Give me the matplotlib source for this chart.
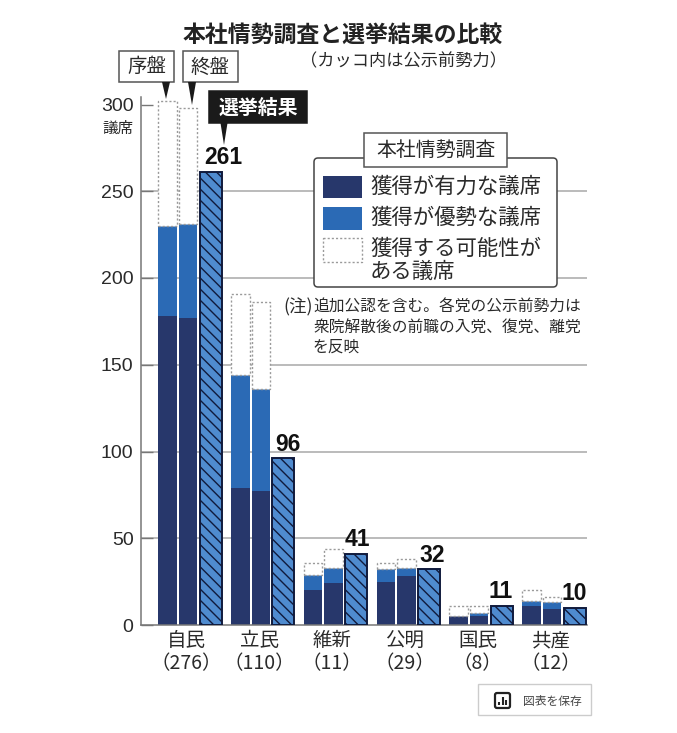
import matplotlib
matplotlib.use('Agg')
import matplotlib.pyplot as plt
import numpy as np
from matplotlib.patches import Rectangle, FancyBboxPatch, Polygon

plt.rcParams['font.family'] = ['Noto Sans CJK JP', 'DejaVu Sans']
plt.rcParams['hatch.linewidth'] = 1.0

# party names and seats before the election
parties = ['自民', '立民', '維新', '公明', '国民', '共産']
before = ['（276）', '（110）', '（11）', '（29）', '（8）', '（12）']

# survey, first and last phase: strong / leading / possible seats
strong_first = [178, 79, 20, 25, 5, 11]
lead_first = [52, 65, 9, 7, 0, 3]
maybe_first = [72, 47, 7, 4, 6, 6]
strong_last = [177, 77, 24, 28, 5, 9]
lead_last = [54, 59, 9, 5, 2, 4]
maybe_last = [67, 50, 11, 5, 4, 3]
result = [261, 96, 41, 32, 11, 10]

yticks = [0, 50, 100, 150, 200, 250, 300]
# result labels do not sit centred on their bars
label_shift = [13, 5, 1.5, 3.5, -1, 0]

NAVY = '#27376b'
BLUE = '#2b6ab5'
HATCH_BLUE = '#4f8bcf'
EDGE = '#101a3c'
GRID = '#a8a8a8'
DOT = '#9a9a9a'
TXT = '#2a2a2a'

W, H = 677, 733
fig = plt.figure(figsize=(W / 100, H / 100), dpi=100, facecolor='white')
# y axis runs from pixel 625 (zero) up to pixel 97, x is in pixels from the axis line
ax = fig.add_axes([140.5 / W, 1 - 625 / H, (587 - 140.5) / W, (625 - 97) / H])
ax.set_xlim(0, 587 - 140.5)
ax.set_ylim(0, 528 / 1.735)

step = 72.8
x = np.arange(len(parties)) * step
x1 = x + 27
x2 = x + 47.5
x3 = x + 70
w_survey = 18.5
w_result = 22

s1, l1, m1 = np.array(strong_first), np.array(lead_first), np.array(maybe_first)
s2, l2, m2 = np.array(strong_last), np.array(lead_last), np.array(maybe_last)

ax.hlines(yticks[1:-1], 0, 587 - 140.5, color=GRID, lw=1.1, zorder=1)

for xs, s, l, m in [(x1, s1, l1, m1), (x2, s2, l2, m2)]:
    ax.bar(xs, s, w_survey, color=NAVY, zorder=2)
    ax.bar(xs, l, w_survey, bottom=s, color=BLUE, zorder=2)
    ax.bar(xs, m, w_survey, bottom=s + l, facecolor='white', edgecolor=DOT,
           lw=1.0, ls=(0, (1.5, 1.5)), zorder=2)

ax.bar(x3, result, w_result, facecolor=HATCH_BLUE, edgecolor=EDGE, lw=1.4,
       hatch='\\\\\\', zorder=3)
for xi, v, d in zip(x3, result, label_shift):
    ax.text(xi + d, v + 1.6, str(v), ha='center', va='bottom',
            fontsize=16.5, fontweight='bold', family='Liberation Sans', color='#111111', zorder=4)

for sp in ['top', 'right']:
    ax.spines[sp].set_visible(False)
for sp in ['left', 'bottom']:
    ax.spines[sp].set_color('#777777')
    ax.spines[sp].set_linewidth(1.1)
ax.set_yticks(yticks)
ax.tick_params(axis='y', direction='in', length=8.5, width=1.0, color='#777777', pad=5,
               labelsize=14, labelcolor=TXT)
for lb in ax.get_yticklabels():
    lb.set_family('Liberation Sans')
ax.set_xticks([])

# overlay in pixel coordinates for boxes and notes
ov = fig.add_axes([0, 0, 1, 1], zorder=5)
ov.set_xlim(0, W)
ov.set_ylim(H, 0)
ov.axis('off')
ov.patch.set_alpha(0)


def box(x0, y0, x1_, y1_, fc='white', ec='#555555', lw=1.1):
    ov.add_patch(Rectangle((x0, y0), x1_ - x0, y1_ - y0, facecolor=fc, edgecolor=ec, lw=lw))


def pointer(xc, y0, y1_, hw=4):
    ov.add_patch(Polygon([(xc - hw, y0), (xc + hw, y0), (xc, y1_)], closed=True,
                         facecolor='#1a1a1a', edgecolor='none'))


ov.text(343, 35, '本社情勢調査と選挙結果の比較', ha='center', va='center',
        fontsize=16.5, fontweight='bold', color='#222222')
ov.text(403, 61, '（カッコ内は公示前勢力）', ha='center', va='center', fontsize=12.4, color=TXT)

box(119, 51, 174, 82)
ov.text(146.5, 67, '序盤', ha='center', va='center', fontsize=14, color=TXT)
pointer(166, 82, 99)
box(183, 51, 238, 82)
ov.text(210.5, 67, '終盤', ha='center', va='center', fontsize=14, color=TXT)
pointer(192, 82, 105)
box(209, 91, 307, 123, fc='#1a1a1a', ec='#1a1a1a')
ov.text(258, 107, '選挙結果', ha='center', va='center', fontsize=14.3, fontweight='bold', color='white')
pointer(224, 123, 145, hw=3.5)

ov.text(118, 128, '議席', ha='center', va='center', fontsize=11.2, color=TXT)

# legend
ov.add_patch(FancyBboxPatch((314, 158), 243, 129, boxstyle='round,pad=0,rounding_size=4',
                            facecolor='white', edgecolor='#444444', lw=1.1))
box(364, 133, 507, 167)
ov.text(435.5, 150, '本社情勢調査', ha='center', va='center', fontsize=14.3, color=TXT)
ov.add_patch(Rectangle((323, 176), 39, 22, facecolor=NAVY, edgecolor='none'))
ov.add_patch(Rectangle((323, 207), 39, 23, facecolor=BLUE, edgecolor='none'))
ov.add_patch(Rectangle((323, 238), 39, 24, facecolor='white', edgecolor=DOT, lw=1.0, ls=(0, (1.5, 1.5))))
for ty, t in zip([187, 218, 249, 272], ['獲得が有力な議席', '獲得が優勢な議席', '獲得する可能性が', 'ある議席']):
    ov.text(370, ty, t, ha='left', va='center', fontsize=15.4, color=TXT)

# note
ov.text(283, 307, '(注)', ha='left', va='center', fontsize=12.6, color=TXT)
ov.text(313, 307, '追加公認を含む。各党の公示前勢力は', ha='left', va='center', fontsize=11.3, color=TXT)
ov.text(313, 327, '衆院解散後の前職の入党、復党、離党', ha='left', va='center', fontsize=11.3, color=TXT)
ov.text(313, 347, 'を反映', ha='left', va='center', fontsize=11.3, color=TXT)

# party labels under the axis
for xi, p, b in zip(x, parties, before):
    cx = 140.5 + xi + 46
    ov.text(cx, 641, p, ha='center', va='center', fontsize=14, color=TXT)
    ov.text(cx, 664, b, ha='center', va='center', fontsize=14, color=TXT)

# save button
ov.add_patch(Rectangle((478, 684), 113, 31, facecolor='white', edgecolor='#cccccc', lw=1.0))
ov.add_patch(FancyBboxPatch((495, 693), 15, 15, boxstyle='round,pad=0,rounding_size=2',
                            facecolor='white', edgecolor='#222222', lw=1.6))
ov.vlines([499, 502.5, 506], [702, 697, 700], [705, 705, 705], color='#222222', lw=1.5)
ov.text(523, 701, '図表を保存', ha='left', va='center', fontsize=8.5, color='#444444')

fig.savefig('out.png', dpi=100, facecolor='white')
